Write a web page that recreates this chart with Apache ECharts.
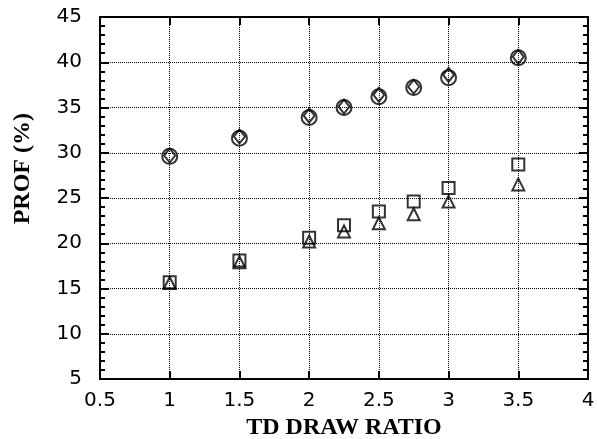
<!DOCTYPE html>
<html>
<head>
<meta charset="utf-8">
<script src="https://cdn.jsdelivr.net/npm/echarts@6/dist/echarts.min.js"></script>
<style>
  html, body { margin: 0; padding: 0; background: #fff; }
  #chart { width: 597px; height: 439px; }
</style>
</head>
<body>
<div id="chart"></div>
<script>
// draw ratios (x) and PROF values
const drawRatio = [1, 1.5, 2, 2.25, 2.5, 2.75, 3, 3.5];
const circleVals = [29.6, 31.6, 33.9, 35.0, 36.2, 37.2, 38.3, 40.5];
const diamondVals = [29.7, 31.8, 34.1, 35.1, 36.4, 37.3, 38.6, 40.6];
const squareVals = [15.7, 18.1, 20.6, 22.0, 23.5, 24.6, 26.1, 28.7];
const triangleVals = [15.6, 17.9, 20.2, 21.3, 22.2, 23.2, 24.6, 26.5];

const xTicks = [0.5, 1, 1.5, 2, 2.5, 3, 3.5, 4];
const yTicks = [5, 10, 15, 20, 25, 30, 35, 40, 45];

const pairs = (vals) => drawRatio.map((x, i) => [x, vals[i]]);

const tickFont = {
  color: '#000',
  fontFamily: 'DejaVu Sans, Arial, sans-serif',
  fontSize: 20,
};
const titleFont = {
  color: '#000',
  fontFamily: 'Liberation Serif, Times New Roman, serif',
  fontWeight: 'bold',
  fontSize: 24,
};
const axisLine = { show: true, lineStyle: { color: '#000', width: 2 } };
const dotted = { show: true, lineStyle: { color: '#000', type: 'dotted', width: 1 } };
const tickStyle = { color: '#000', width: 2 };

const mkSeries = (vals, symbol, size) => ({
  type: 'scatter',
  data: pairs(vals),
  symbol: symbol,
  symbolSize: size,
  itemStyle: { color: 'rgba(255,255,255,0)', borderColor: '#000', borderWidth: 2 },
  emphasis: { disabled: true },
});

const chart = echarts.init(document.getElementById('chart'));
chart.setOption({
  animation: false,
  // v6 shrinks the grid to fit labels unless told not to
  grid: { left: 100, right: 9, top: 17, bottom: 60, containLabel: false, outerBoundsMode: 'none' },
  xAxis: [
    {
      type: 'value', min: xTicks[0], max: xTicks[xTicks.length - 1], interval: 0.5,
      axisLine: axisLine,
      axisTick: { inside: true, length: 8, lineStyle: tickStyle },
      axisLabel: Object.assign({ margin: 12 }, tickFont),
      splitLine: dotted,
      name: 'TD DRAW RATIO', nameLocation: 'middle', nameGap: 36,
      nameTextStyle: titleFont,
    },
    {
      type: 'value', position: 'top', min: xTicks[0], max: xTicks[xTicks.length - 1], interval: 0.5,
      axisLine: axisLine,
      axisTick: { inside: true, length: 8, lineStyle: tickStyle },
      axisLabel: { show: false },
      splitLine: { show: false },
    },
  ],
  yAxis: [
    {
      type: 'value', min: yTicks[0], max: yTicks[yTicks.length - 1], interval: 5,
      axisLine: axisLine,
      axisTick: { inside: true, length: 9, lineStyle: tickStyle },
      minorTick: { show: true, splitNumber: 5, length: 5, lineStyle: tickStyle },
      axisLabel: Object.assign({ margin: 18 }, tickFont),
      splitLine: dotted,
    },
    {
      type: 'value', position: 'right', min: yTicks[0], max: yTicks[yTicks.length - 1], interval: 5,
      axisLine: axisLine,
      axisTick: { inside: true, length: 9, lineStyle: tickStyle },
      minorTick: { show: true, splitNumber: 5, length: 5, lineStyle: tickStyle },
      axisLabel: { show: false },
      splitLine: { show: false },
    },
  ],
  graphic: [
    {
      type: 'text', left: 11, top: 113,
      rotation: Math.PI / 2,
      originX: 0, originY: 0,
      style: {
        text: 'PROF (%)',
        fill: '#000',
        font: 'bold 24px "Liberation Serif", "Times New Roman", serif',
      },
    },
  ],
  series: [
    mkSeries(circleVals, 'circle', 15),
    mkSeries(diamondVals, 'diamond', [11, 14]),
    mkSeries(squareVals, 'rect', 12),
    mkSeries(triangleVals, 'triangle', 12),
  ],
});
</script>
</body>
</html>
